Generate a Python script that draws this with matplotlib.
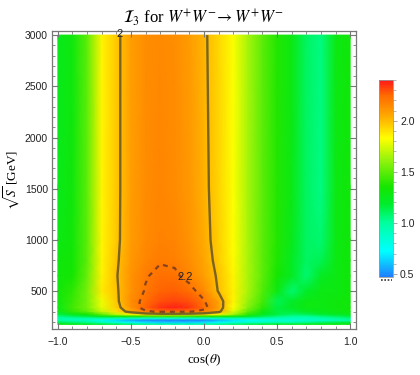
import numpy as np
import matplotlib
matplotlib.use("Agg")
import matplotlib.pyplot as plt
from matplotlib.colors import LinearSegmentedColormap, Normalize
from matplotlib.cm import ScalarMappable
from matplotlib.ticker import MultipleLocator
from matplotlib.lines import Line2D

# ---------------- data ----------------
cos_theta = [-1.0, -0.9, -0.8, -0.7, -0.6, -0.5, -0.4, -0.3, -0.2, -0.1, 0.0,
             0.1, 0.2, 0.3, 0.4, 0.5, 0.6, 0.7, 0.8, 0.9, 1.0]
sqrt_s = [175, 195, 215, 235, 255, 275, 300, 340, 400, 500, 650, 800, 1000, 1500, 3000]

row_175 = [1.30, 1.28, 1.25, 1.20, 1.15, 1.10, 1.05, 1.02, 1.00, 1.00, 1.02, 1.05, 1.10, 1.15, 1.20, 1.22, 1.25, 1.28, 1.30, 1.30, 1.30]
row_195 = [1.15, 1.10, 1.05, 0.95, 0.85, 0.75, 0.68, 0.64, 0.64, 0.64, 0.68, 0.75, 0.85, 0.90, 0.95, 1.00, 1.00, 1.05, 1.10, 1.15, 1.20]
row_215 = [1.00, 0.95, 0.90, 0.78, 0.66, 0.56, 0.50, 0.48, 0.48, 0.48, 0.50, 0.58, 0.68, 0.76, 0.80, 0.84, 0.85, 0.88, 0.90, 0.95, 1.00]
row_235 = [0.95, 0.95, 0.95, 0.95, 0.92, 0.88, 0.85, 0.85, 0.85, 0.85, 0.85, 0.88, 0.90, 0.92, 0.92, 0.92, 0.92, 0.92, 0.95, 1.00, 1.05]
row_255 = [1.05, 1.10, 1.15, 1.25, 1.30, 1.35, 1.40, 1.42, 1.42, 1.40, 1.38, 1.35, 1.30, 1.22, 1.12, 1.05, 1.00, 1.00, 1.05, 1.10, 1.15]
row_275 = [1.15, 1.25, 1.35, 1.50, 1.70, 1.85, 1.93, 1.96, 1.96, 1.95, 1.92, 1.85, 1.65, 1.40, 1.25, 1.15, 1.10, 1.12, 1.18, 1.22, 1.25]
row_300 = [1.25, 1.40, 1.50, 1.70, 1.90, 2.06, 2.18, 2.22, 2.22, 2.21, 2.16, 2.04, 1.75, 1.50, 1.30, 1.15, 1.15, 1.22, 1.25, 1.28, 1.30]
row_340 = [1.28, 1.45, 1.55, 1.78, 1.95, 2.12, 2.26, 2.35, 2.38, 2.34, 2.24, 2.08, 1.82, 1.58, 1.40, 1.15, 1.22, 1.28, 1.28, 1.30, 1.32]
row_400 = [1.30, 1.42, 1.55, 1.80, 1.97, 2.14, 2.24, 2.30, 2.32, 2.30, 2.21, 2.07, 1.85, 1.62, 1.45, 1.12, 1.20, 1.28, 1.28, 1.30, 1.32]
row_500 = [1.32, 1.40, 1.55, 1.88, 1.98, 2.12, 2.21, 2.26, 2.27, 2.24, 2.15, 1.99, 1.86, 1.66, 1.48, 1.28, 1.08, 1.20, 1.28, 1.28, 1.32]
row_650 = [1.30, 1.35, 1.52, 1.86, 1.99, 2.12, 2.19, 2.23, 2.22, 2.16, 2.08, 1.98, 1.85, 1.66, 1.50, 1.35, 1.22, 1.08, 1.22, 1.28, 1.32]
row_800 = [1.30, 1.33, 1.50, 1.85, 1.98, 2.10, 2.16, 2.19, 2.18, 2.13, 2.06, 1.96, 1.84, 1.66, 1.50, 1.37, 1.22, 1.10, 1.12, 1.28, 1.32]
row_1000 = [1.28, 1.32, 1.50, 1.85, 1.97, 2.09, 2.15, 2.17, 2.16, 2.12, 2.04, 1.95, 1.83, 1.66, 1.50, 1.38, 1.25, 1.10, 1.08, 1.28, 1.32]
row_1500 = [1.26, 1.31, 1.50, 1.85, 1.97, 2.08, 2.14, 2.16, 2.14, 2.10, 2.03, 1.94, 1.82, 1.65, 1.50, 1.38, 1.27, 1.10, 1.05, 1.28, 1.32]
row_3000 = [1.25, 1.30, 1.50, 1.85, 1.97, 2.08, 2.13, 2.15, 2.13, 2.09, 2.02, 1.93, 1.82, 1.65, 1.50, 1.38, 1.28, 1.10, 1.05, 1.28, 1.32]

cbar_ticks = [0.5, 1.0, 1.5, 2.0]
contour_solid = 2.0
contour_dashed = 2.2

# ---------------- styling ----------------
plt.rcParams["mathtext.fontset"] = "stix"

Z = np.array([row_175, row_195, row_215, row_235, row_255, row_275, row_300,
              row_340, row_400, row_500, row_650, row_800, row_1000, row_1500, row_3000])
X, Y = np.meshgrid(cos_theta, sqrt_s)

vmin, vmax = 0.47, 2.40
stops = [(0.47, (0.12, 0.50, 1.00)),
         (0.72, (0.00, 1.00, 1.00)),
         (1.00, (0.00, 1.00, 0.62)),
         (1.18, (0.00, 0.93, 0.18)),
         (1.35, (0.08, 0.90, 0.00)),
         (1.60, (0.55, 0.95, 0.05)),
         (1.83, (1.00, 1.00, 0.00)),
         (2.05, (1.00, 0.66, 0.00)),
         (2.25, (1.00, 0.42, 0.00)),
         (2.40, (1.00, 0.10, 0.10))]
cmap = LinearSegmentedColormap.from_list(
    "mma", [((v - vmin) / (vmax - vmin), c) for v, c in stops])
norm = Normalize(vmin=vmin, vmax=vmax)

fig = plt.figure(figsize=(4.2, 3.75), dpi=100)
ax = fig.add_axes([52 / 420, 46 / 375, 304 / 420, 298 / 375])

ax.pcolormesh(X, Y, Z, cmap=cmap, norm=norm, shading="gouraud")
ax.contour(X, Y, Z, levels=[contour_solid], colors="#6a5a26", linewidths=1.7, alpha=0.9)
ax.contour(X, Y, Z, levels=[contour_dashed], colors="#7a3c20", linewidths=1.6,
           linestyles=[(0, (2.2, 2.2))], alpha=0.9)

ax.text(-0.575, 3010, "2", fontsize=8, family="Liberation Sans", ha="center", va="center", color="#222")
ax.text(-0.13, 640, "2.2", fontsize=8, family="Liberation Sans", ha="center", va="center", color="#222")

ax.set_xlim(-1.04, 1.04)
ax.set_ylim(130, 3040)

frame_col = "#777777"
for sp in ax.spines.values():
    sp.set_color(frame_col)
    sp.set_linewidth(0.9)
ax.set_xticks([-1.0, -0.5, 0.0, 0.5, 1.0])
ax.set_yticks([500, 1000, 1500, 2000, 2500, 3000])
ax.xaxis.set_minor_locator(MultipleLocator(0.1))
ax.yaxis.set_minor_locator(MultipleLocator(100))
ax.tick_params(which="both", direction="in", top=True, right=True, color=frame_col)
ax.tick_params(which="major", length=4, width=0.8, labelsize=7.5, labelcolor="#222222", pad=3)
ax.tick_params(axis="x", which="major", pad=6)
ax.tick_params(which="minor", length=2.2, width=0.6)
for lab in ax.get_xticklabels() + ax.get_yticklabels():
    lab.set_family("Liberation Sans")
ax.set_xticklabels(["\u22121.0", "\u22120.5", "0.0", "0.5", "1.0"])

ax.set_title(r"$\mathcal{I}_3$ for $W^{+}W^{-}\!\rightarrow W^{+}W^{-}$",
             family="Liberation Serif", fontsize=12, pad=6)
ax.set_xlabel(r"cos($\theta$)", family="Liberation Serif", fontsize=9.5, labelpad=4)
ax.set_ylabel(r"$\sqrt{S}$ [GeV]", family="Liberation Serif", fontsize=9.5, labelpad=2)

cax = fig.add_axes([379 / 420, 98 / 375, 14 / 420, 197 / 375])
cb = fig.colorbar(ScalarMappable(norm=norm, cmap=cmap), cax=cax, ticks=cbar_ticks)
cb.outline.set_edgecolor("#999999")
cb.outline.set_linewidth(0.6)
cax.yaxis.set_minor_locator(MultipleLocator(0.1))
cax.tick_params(which="major", length=3, width=0.6, color="#999999", labelsize=7.5,
                labelcolor="#222222", pad=2)
cax.tick_params(which="minor", length=1.8, width=0.5, color="#999999")
cax.set_yticklabels(["0.5", "1.0", "1.5", "2.0"], family="Liberation Sans")

fig.add_artist(Line2D([381 / 420, 392 / 420], [95 / 375, 95 / 375], color="#333333",
                      linewidth=1.2, linestyle=(0, (1, 1))))

fig.savefig("out.png", dpi=100)
